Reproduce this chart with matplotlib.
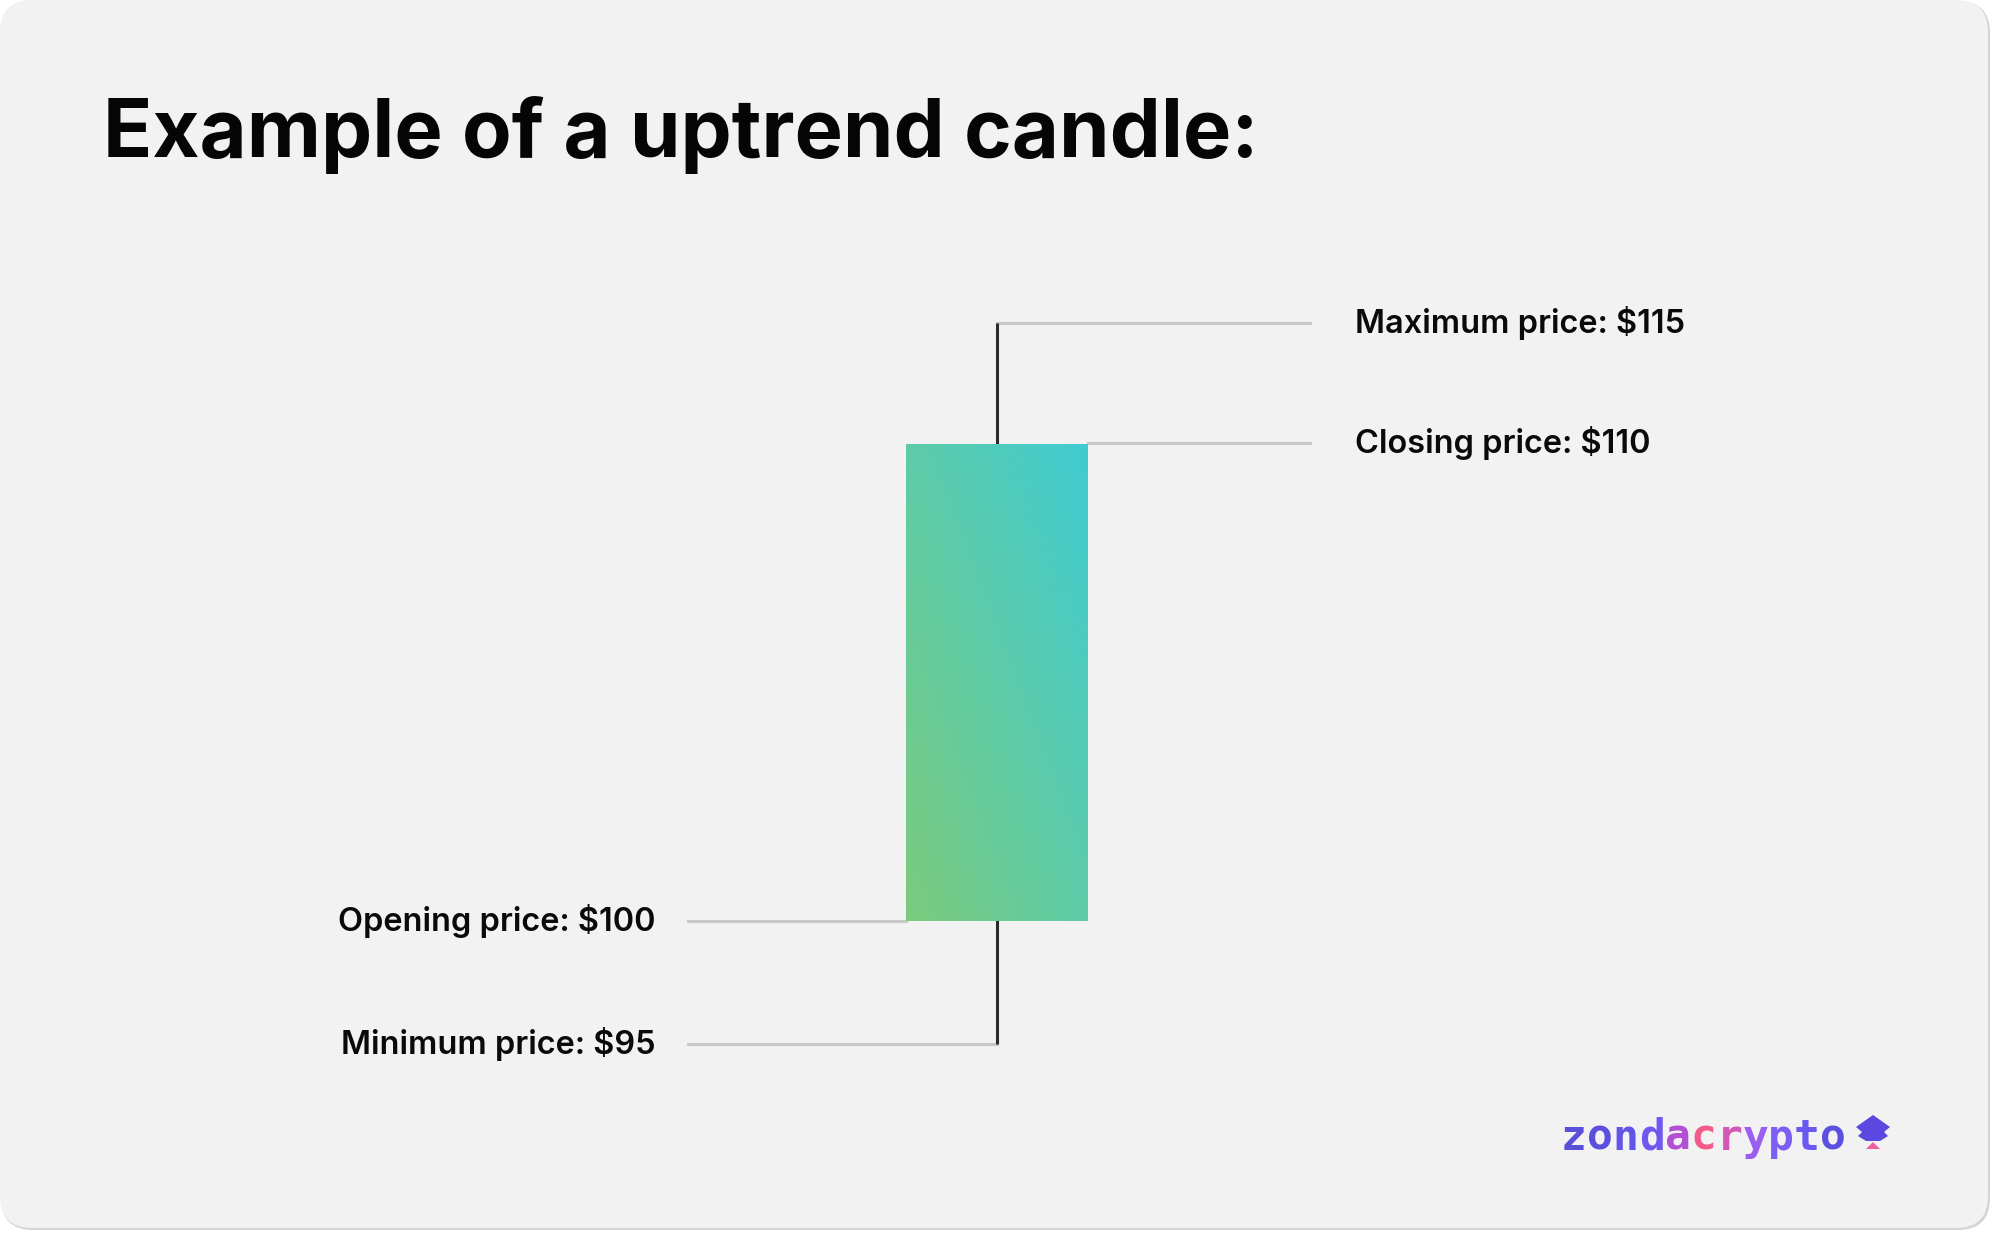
import numpy as np
import matplotlib
matplotlib.use("Agg")
import matplotlib.pyplot as plt
from matplotlib.patches import FancyBboxPatch, Rectangle, Polygon
from matplotlib.colors import to_rgb

# ---- candle data ----
labels = ["Maximum price", "Closing price", "Opening price", "Minimum price"]
prices = [115, 110, 100, 95]
high, close, open_, low = prices

# the candle is a schematic, not to scale: body stretched vs the wicks.
# piecewise-linear price -> pixel-height map (px measured from figure bottom)
KNOT_P = [95, 100, 110, 115]
KNOT_PX = [190, 313, 791, 911]

W, H, DPI = 1999, 1234, 100


def _knots():
    s0 = (KNOT_PX[1] - KNOT_PX[0]) / (KNOT_P[1] - KNOT_P[0])
    s1 = (KNOT_PX[-1] - KNOT_PX[-2]) / (KNOT_P[-1] - KNOT_P[-2])
    p = [KNOT_P[0] - 200] + KNOT_P + [KNOT_P[-1] + 200]
    px = [KNOT_PX[0] - 200 * s0] + KNOT_PX + [KNOT_PX[-1] + 200 * s1]
    return p, px


def fwd(v):
    p, px = _knots()
    return np.interp(np.asarray(v, float), p, px)


def inv(v):
    p, px = _knots()
    return np.interp(np.asarray(v, float), px, p)


# layout (pixels)
CX = 997            # wick x
HALF = 91           # half body width
LEFT_X, RIGHT_X = 688, 1310
GREY, DARK = "#c9c9c9", "#2b2b2b"
FONT = ["Inter", "DejaVu Sans"]

fig = plt.figure(figsize=(W / DPI, H / DPI), dpi=DPI)
fig.patch.set_facecolor("white")

# decoration layer, top-down pixel coords
deco = fig.add_axes([0, 0, 1, 1], zorder=0)
deco.set_xlim(0, W); deco.set_ylim(H, 0); deco.axis("off")
deco.add_patch(FancyBboxPatch((1, 1), 1989, 1229, boxstyle="round,pad=0,rounding_size=32",
                              fc="#d4d4d4", ec="none"))
deco.add_patch(FancyBboxPatch((0, 0), 1988, 1228, boxstyle="round,pad=0,rounding_size=32",
                              fc="#f2f2f2", ec="none"))
deco.text(103, 157, "Example of a uptrend candle:", fontsize=58.5, fontweight="bold",
          family=FONT, va="baseline", ha="left", color="#050505")

# logo
logo_cols = ["#5a4fd8", "#5b50dd", "#6355e8", "#6e58f0", "#b24fd4", "#f35c8a",
             "#d457b8", "#9a5ff0", "#7a5ef5", "#6a58f0", "#5c50e0"]
adv = 25.9
for i, (ch, col) in enumerate(zip("zondacrypto", logo_cols)):
    deco.text(1561 + i * adv, 1150, ch, fontsize=31, family="DejaVu Sans Mono",
              fontweight="bold", color=col, va="baseline", ha="left")
deco.add_patch(Polygon([(1873, 1115), (1890, 1127), (1884, 1132), (1888, 1136), (1880, 1141),
                        (1866, 1141), (1858, 1136), (1862, 1132), (1856, 1127)],
                       closed=True, fc="#5a48e0", ec="none"))
deco.add_patch(Polygon([(1873, 1142), (1880, 1149), (1866, 1149)], closed=True,
                       fc="#f05ca0", ec="none"))

# candle layer: x in pixels, y in price via the schematic scale
ax = fig.add_axes([0, 0, 1, 1], zorder=1)
ax.set_facecolor("none")
ax.set_yscale("function", functions=(fwd, inv))
ax.set_xlim(0, W)
ax.set_ylim(float(inv(0)), float(inv(H)))
ax.axis("off")

lw = 2.2
ax.plot([CX, CX], [low, high], color=DARK, lw=lw, zorder=2, solid_capstyle="butt")
ax.plot([CX, RIGHT_X], [high, high], color=GREY, lw=lw, zorder=1)
ax.plot([CX + HALF, RIGHT_X], [close, close], color=GREY, lw=lw, zorder=1)
ax.plot([LEFT_X, CX - HALF], [open_, open_], color=GREY, lw=lw, zorder=1)
ax.plot([LEFT_X, CX], [low, low], color=GREY, lw=lw, zorder=1)

# body with diagonal gradient (bottom-left green -> top-right cyan)
c0, c1 = np.array(to_rgb("#7bcb7d")), np.array(to_rgb("#40cbd2"))
n = 200
xx, yy = np.meshgrid(np.linspace(0, 1, n), np.linspace(0, 1, n))
t = (xx + yy) / 2
grad = c0[None, None, :] * (1 - t[..., None]) + c1[None, None, :] * t[..., None]
body = Rectangle((CX - HALF, open_), 2 * HALF, close - open_, fc="none", ec="none")
ax.add_patch(body)
im = ax.imshow(grad, extent=(CX - HALF, CX + HALF, open_, close), origin="lower",
               aspect="auto", zorder=3, interpolation="bilinear")
im.set_clip_path(body)

# labels
for lab, p in zip(labels, prices):
    txt = "%s: $%d" % (lab, p)
    if p in (high, close):
        ax.text(1355, p, txt, ha="left", va="center", fontsize=23.4, fontweight="semibold",
                family=FONT, color="#0a0a0a")
    else:
        ax.text(656, p, txt, ha="right", va="center", fontsize=23.4, fontweight="semibold",
                family=FONT, color="#0a0a0a")

fig.savefig("out.png", dpi=DPI)
